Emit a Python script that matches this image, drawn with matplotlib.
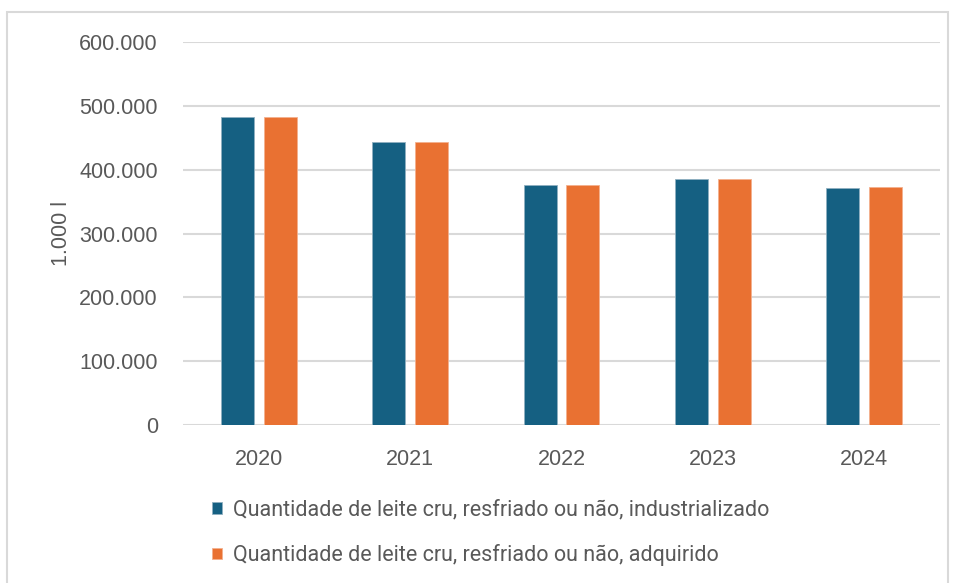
import matplotlib
matplotlib.use('Agg')
import matplotlib.pyplot as plt
import matplotlib.patches as mpatches
import matplotlib.ticker as mticker
import numpy as np

# Data
# ------------------------------------------------------------------------------

years = ['2020', '2021', '2022', '2023', '2024']
industrializado = [482000, 443800, 375500, 384900, 370800]
adquirido = [482000, 443800, 375500, 384900, 373300]
labels = ['Quantidade de leite cru, resfriado ou não, industrializado',
          'Quantidade de leite cru, resfriado ou não, adquirido']

# Plot
# ------------------------------------------------------------------------------

blue = '#156082'
orange = '#E97132'
grey = '#595959'
fs = 15.5

fig = plt.figure(figsize=(9.55, 5.83), dpi=100)
ax = fig.add_axes([183 / 955, 1 - 425 / 583, 757 / 955, 383 / 583])

x = np.arange(len(years))
w = 0.218
off = 0.141
ax.bar(x - off, industrializado, w, color=blue, edgecolor='#8fb0c0', linewidth=0.6,
       label=labels[0], zorder=3)
ax.bar(x + off, adquirido, w, color=orange, edgecolor='#f4b08e', linewidth=0.6,
       label=labels[1], zorder=3)

ax.set_xlim(-0.5, len(years) - 0.5)
ax.set_ylim(0, 600000)
ax.set_yticks(np.arange(0, 600001, 100000))
ax.yaxis.set_major_formatter(mticker.FuncFormatter(
    lambda v, p: '0' if v == 0 else f'{int(v):,}'.replace(',', '.')))
ax.set_xticks(x)
ax.set_xticklabels(years)

ax.grid(axis='y', color='#D9D9D9', linewidth=1.5, zorder=0)
for s in ax.spines.values():
    s.set_visible(False)
ax.tick_params(length=0, colors=grey, labelsize=fs)
ax.tick_params(axis='y', pad=18)
ax.tick_params(axis='x', pad=17)
for t in ax.get_xticklabels() + ax.get_yticklabels():
    t.set_family('Liberation Sans')

ax.set_ylabel('1.000 l', fontsize=fs, color=grey, family='Liberation Sans', labelpad=5)

# legend
leg = fig.legend(loc='upper left', bbox_to_anchor=(201 / 955, 1 - 489 / 583),
                 frameon=False, borderpad=0, handlelength=0.47, handleheight=0.47,
                 handletextpad=0.5, labelspacing=1.09,
                 prop={'family': 'Roboto', 'size': fs})
for t in leg.get_texts():
    t.set_color(grey)

# outer frame
fig.patches.append(mpatches.Rectangle((7 / 955, -0.05), 941 / 955, 1.05 - 12 / 583,
                                      transform=fig.transFigure, fill=False,
                                      edgecolor='#D9D9D9', linewidth=1.5))

fig.savefig('out.png', dpi=100)
